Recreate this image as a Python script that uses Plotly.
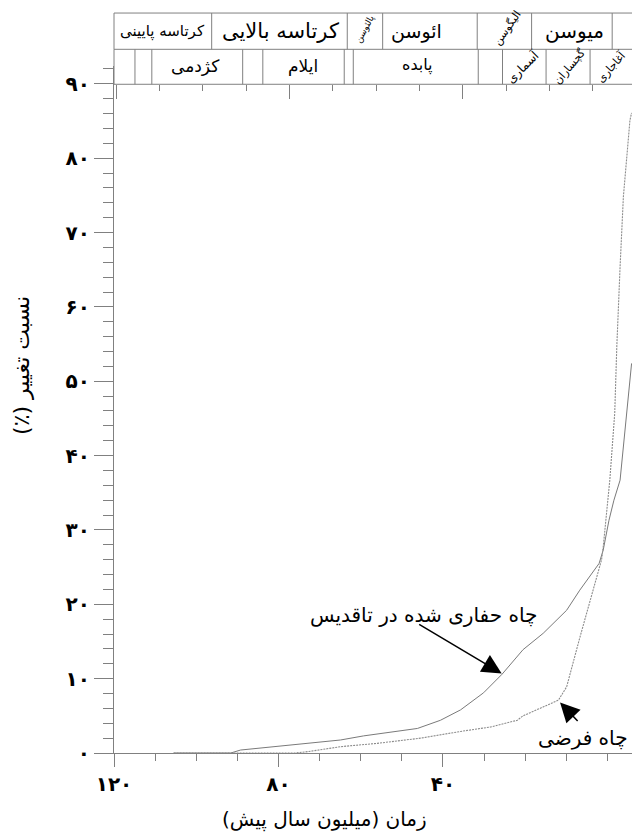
import plotly.graph_objects as go

# ---------------- data ----------------
# age (million years ago) and change ratio (%)
drilled_age = [105.5, 91.6, 89.2, 85.5, 80.7, 72.6, 64.9, 59.3, 51.0, 46.2, 40.6, 35.7,
               30.1, 25.6, 20.5, 15.6, 9.9, 6.7, 2.0, 1.0, -0.4, -1.6, -3.1, -5.9]
drilled_val = [0.0, 0.0, 0.4, 0.6, 0.85, 1.3, 1.75, 2.3, 2.9, 3.3, 4.4, 5.8,
               8.1, 10.6, 13.9, 16.1, 19.2, 21.9, 25.5, 27.3, 31.3, 34.0, 36.7, 52.4]

hypo_age = [105.5, 76.0, 72.6, 64.9, 55.9, 45.4, 35.7, 28.4, 21.9, 20.5, 11.9, 9.9,
            6.7, 3.6, 1.4, 1.0, -0.6, -1.8, -2.3, -3.1, -3.9, -5.5, -5.9]
hypo_val = [0.0, 0.0, 0.2, 0.85, 1.3, 2.0, 2.9, 3.5, 4.4, 5.0, 7.1, 8.9,
            15.5, 21.5, 26.0, 27.7, 36.7, 45.7, 54.6, 65.4, 74.8, 85.1, 86.1]

y_tickvals = [0, 10, 20, 30, 40, 50, 60, 70, 80, 90]
y_ticktext = ["۰", "۱۰", "۲۰", "۳۰", "۴۰", "۵۰", "۶۰", "۷۰", "۸۰", "۹۰"]
x_tickvals = [120, 80, 40]
x_ticktext = ["۱۲۰", "۸۰", "۴۰"]

# stratigraphic column (boundaries in Ma as drawn)
epoch_bounds = [120, 96.24, 63.26, 54.65, 31.65, 18.42, -1.18]
epoch_names = ["کرتاسه پایینی", "کرتاسه بالایی", "پالئوسن", "ائوسن", "الیگوسن", "میوسن"]
formation_bounds = [120, 114.9, 110.8, 88.7, 83.8, 64.0, 61.8, 31.4, 25.5, 14.9, 4.2]
formation_names = ["کژدمی", "ایلام", "پابده", "آسماری", "گچساران", "آغاجاری"]

# ---------------- layout constants ----------------
X0, X1 = 120, -6.0
def xp(age):
    return (X0 - age) / (X0 - X1)

def rtl(s):
    return "\u202b" + s + "\u202c"

FONT = "DejaVu Sans"
GRAY = "#808080"
row_top, row_mid, row_bot = 1.0771, 1.0243, 0.9734

fig = go.Figure()
fig.add_trace(go.Scatter(x=drilled_age, y=drilled_val, mode="lines",
                         line=dict(color="#7a7a7a", width=1), showlegend=False,
                         hoverinfo="skip"))
fig.add_trace(go.Scatter(x=hypo_age, y=hypo_val, mode="lines",
                         line=dict(color="#8c8c8c", width=1.1, dash="2px,1px"),
                         showlegend=False, hoverinfo="skip"))
fig.add_trace(go.Scatter(x=[None], y=[None], xaxis="x2", showlegend=False,
                         hoverinfo="skip"))

shapes = []
for yy in (row_top, row_mid, row_bot):
    shapes.append(dict(type="line", xref="paper", yref="paper", x0=0, x1=1,
                       y0=yy, y1=yy, line=dict(color=GRAY, width=1)))
for b in epoch_bounds:
    shapes.append(dict(type="line", xref="paper", yref="paper", x0=xp(b), x1=xp(b),
                       y0=row_mid, y1=row_top, line=dict(color=GRAY, width=1)))
for b in formation_bounds:
    shapes.append(dict(type="line", xref="paper", yref="paper", x0=xp(b), x1=xp(b),
                       y0=row_bot, y1=row_mid, line=dict(color=GRAY, width=1)))

ann = []
# epoch labels: (x age, paper y, size, angle)
epoch_style = [(108.1, 1.0509, 15, 0), (79.6, 1.0509, 21, 0), (59.0, 1.0535, 9, -62),
               (46.3, 1.0509, 19, 0), (24.4, 1.0545, 11, -55), (7.9, 1.0509, 20, 0)]
for name, (xa, ya, sz, ang) in zip(epoch_names, epoch_style):
    ann.append(dict(x=xa, y=ya, xref="x", yref="paper", text=rtl(name), showarrow=False,
                    textangle=ang, font=dict(family=FONT, size=sz, color="black"),
                    xanchor="center", yanchor="middle"))
form_style = [(100.1, 1.0, 17, 0), (74.0, 1.0, 17, 0), (46.2, 1.002, 16, 0),
              (20.5, 0.9985, 12, -45), (9.2, 1.0, 11, -50), (-0.9, 0.998, 11, -48)]
for name, (xa, ya, sz, ang) in zip(formation_names, form_style):
    ann.append(dict(x=xa, y=ya, xref="x", yref="paper", text=rtl(name), showarrow=False,
                    textangle=ang, font=dict(family=FONT, size=sz, color="black"),
                    xanchor="center", yanchor="middle"))

# curve labels and arrows
ann.append(dict(x=44.6, y=18.6, xref="x", yref="y", text=rtl("چاه حفاری شده در تاقدیس"),
                showarrow=False, font=dict(family=FONT, size=20, color="black")))
ann.append(dict(x=25.7, y=10.7, xref="x", yref="y", text="", showarrow=True,
                arrowhead=2, arrowsize=2.6, arrowwidth=1.5, arrowcolor="black",
                ax=-84, ay=-50, standoff=0))
ann.append(dict(x=5.9, y=2.0, xref="x", yref="y", text=rtl("چاه فرضی"),
                showarrow=False, font=dict(family=FONT, size=20, color="black")))
ann.append(dict(x=11.5, y=6.8, xref="x", yref="y", text="", showarrow=True,
                arrowhead=2, arrowsize=2.6, arrowwidth=1.5, arrowcolor="black",
                ax=19, ay=20, standoff=0))
# axis titles
ann.append(dict(x=-0.1776, y=0.5635, xref="paper", yref="paper", text=rtl("نسبت تغییر (٪)"),
                showarrow=False, textangle=-90, xanchor="center", yanchor="middle",
                font=dict(family=FONT, size=22, color="black")))
ann.append(dict(x=0.4073, y=-0.0975, xref="paper", yref="paper",
                text=rtl("زمان (میلیون سال پیش)"), showarrow=False,
                xanchor="center", yanchor="middle",
                font=dict(family=FONT, size=20, color="black")))

fig.update_layout(
    width=632, height=832,
    margin=dict(l=114, r=0, t=66, b=79),
    paper_bgcolor="white", plot_bgcolor="white",
    showlegend=False,
    shapes=shapes, annotations=ann,
    xaxis=dict(range=[X0, X1], tickmode="array", tickvals=x_tickvals,
               ticktext=x_ticktext, ticks="outside", ticklen=13, tickcolor=GRAY,
               tickwidth=1, showline=True, linecolor=GRAY, linewidth=1,
               showgrid=False, zeroline=False,
               tickfont=dict(family=FONT, size=20, color="black", weight="bold"),
               minor=dict(tick0=0, dtick=10, ticks="outside", ticklen=7,
                          tickcolor=GRAY, showgrid=False)),
    xaxis2=dict(range=[120.53, 0.9], overlaying="x", anchor="free",
                position=row_bot, side="top", showticklabels=False,
                tickmode="linear", tick0=0, dtick=40, ticks="inside", ticklen=14,
                tickcolor=GRAY, showgrid=False, zeroline=False, showline=False,
                minor=dict(tick0=0, dtick=10, ticks="inside", ticklen=6,
                           tickcolor=GRAY, showgrid=False)),
    yaxis=dict(range=[0, 92.4], tickmode="array", tickvals=y_tickvals,
               ticktext=y_ticktext, ticks="outside", ticklen=19, tickcolor=GRAY,
               tickwidth=1, showline=True, linecolor=GRAY, linewidth=1,
               showgrid=False, zeroline=False,
               tickfont=dict(family=FONT, size=20, color="black", weight="bold"),
               minor=dict(tick0=0, dtick=2, ticks="outside", ticklen=10,
                          tickcolor=GRAY, showgrid=False)),
)

fig.write_html(
    "out.html",
    config={"displayModeBar": False},
    post_script=("document.documentElement.style.margin='0';"
                 "document.body.style.margin='0';"
                 "document.documentElement.style.overflow='hidden';"
                 "document.body.style.overflow='hidden';"),
)
